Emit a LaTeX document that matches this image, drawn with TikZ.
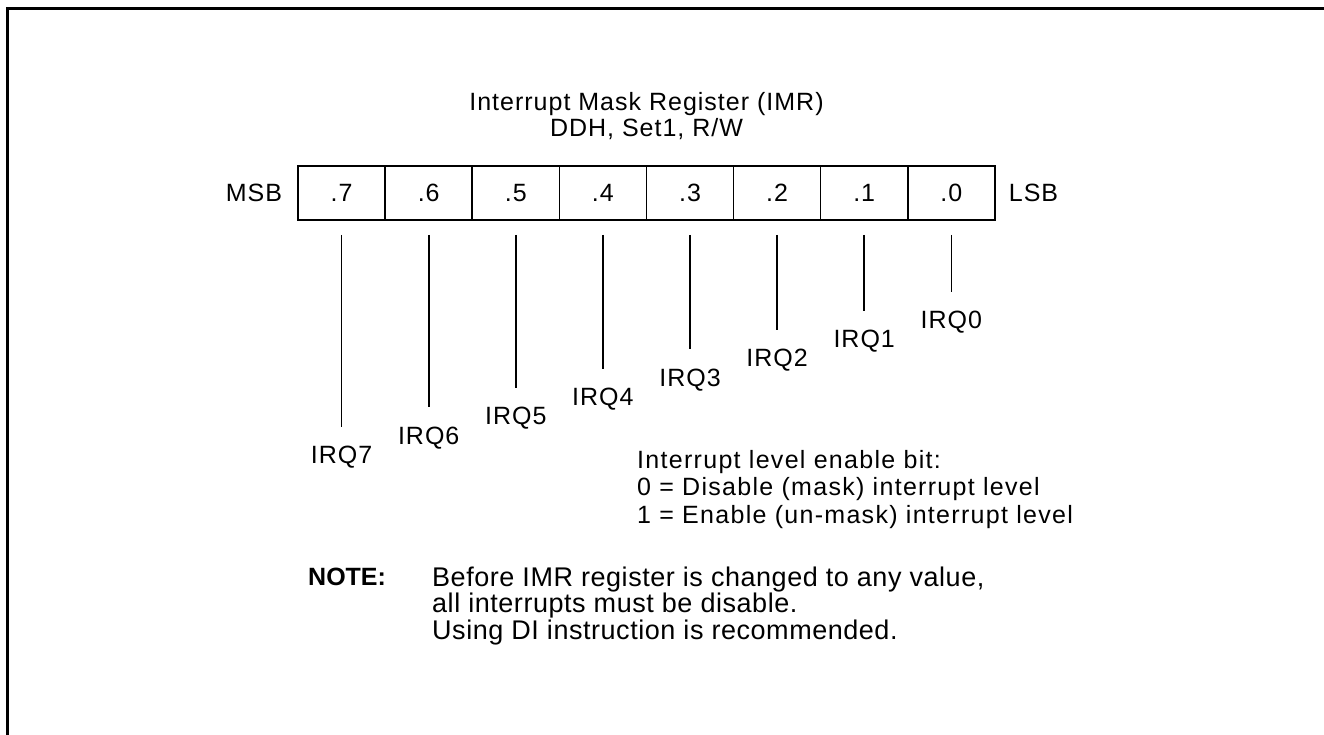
\documentclass[tikz,border=0pt]{standalone}
\usepackage{fontspec}
\setmainfont{Liberation Sans}[LetterSpace=4]
\newfontfamily\legendfont{Liberation Sans}[LetterSpace=5.2]
\newfontfamily\notefont{Liberation Sans}[LetterSpace=2]
\newfontfamily\notehead{Liberation Sans}
\usepackage{tikz}
\usetikzlibrary{positioning}

\begin{document}
\begin{tikzpicture}[
    x=1pt, y=-1pt,
    bit/.style={draw, line width=1.6pt, minimum width=87.1pt, minimum height=54pt,
                inner sep=0pt, font=\fontsize{25}{26}\selectfont},
    irq/.style={inner sep=0pt, text height=17.5pt, text depth=0pt,
                font=\fontsize{25}{26}\selectfont},
    lbl/.style={inner sep=0pt, font=\fontsize{25}{26}\selectfont},
    lead/.style={line width=1.6pt, shorten <=14pt, shorten >=19pt}
]
\useasboundingbox (0,0) rectangle (1324,735);
% cornice
\draw[line width=3pt] (7.5,735) -- (7.5,9) -- (1324,9);
% registro
\foreach \i in {0,...,7}{
    \node[bit] (b\i) at ({341.6+87.1*(7-\i)},193) {.\i};
}
\node[lbl, align=center] (title) at (646.5,116)
    {Interrupt Mask Register (IMR)\\DDH, Set1, R/W};
\node[lbl, left=15pt of b7] (msb) {MSB};
\node[lbl, right=13pt of b0] (lsb) {LSB};
% linee verso le etichette IRQ
\foreach \i in {0,...,7}{
    \pgfmathsetmacro{\d}{89.7+19.3*\i}
    \node[irq, below=\d pt of b\i] (q\i) {IRQ\i};
    \draw[lead] (b\i.south) -- (q\i.north);
}
% legenda
\node[lbl, align=left, anchor=north west, font=\fontsize{25}{27.5}\legendfont] (legend) at (637,450)
    {Interrupt level enable bit:\\0 = Disable (mask) interrupt level\\1 = Enable (un-mask) interrupt level};
\node[lbl, anchor=north west, font=\fontsize{25}{24.5}\notehead\bfseries] (note) at (308,568) {NOTE:};
\node[lbl, align=left, anchor=north west, font=\fontsize{27}{24.5}\notefont] (notetext) at (432,567)
    {Before IMR register is changed to any value,\\all interrupts must be disable.\\Using DI instruction is recommended.};
\end{tikzpicture}
\end{document}
